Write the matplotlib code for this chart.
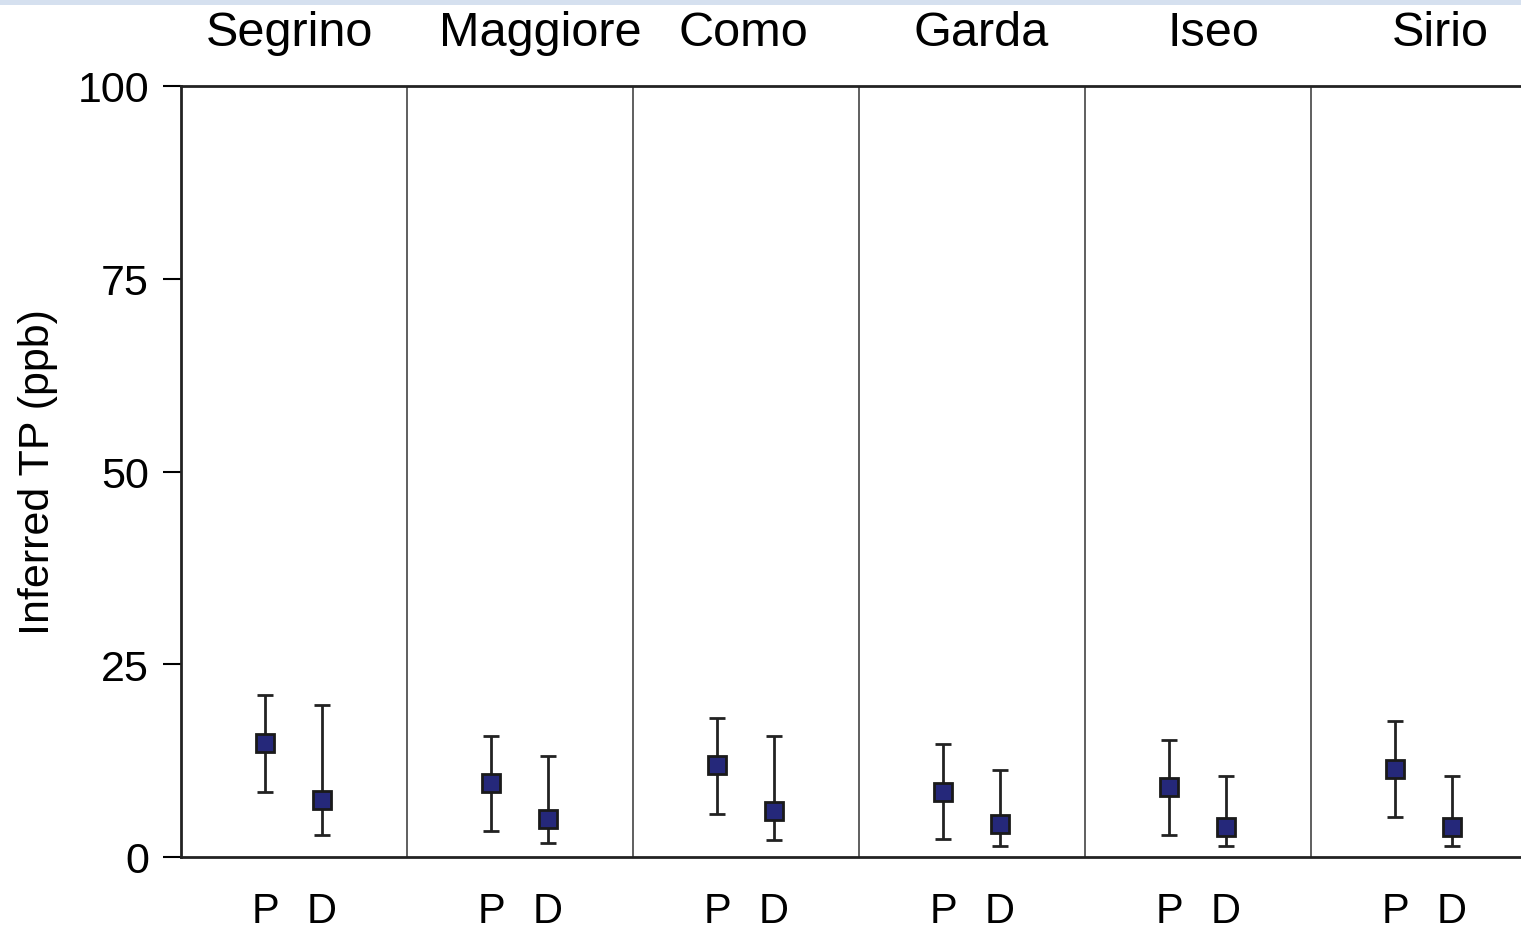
import matplotlib.pyplot as plt
from matplotlib.patches import Rectangle

plt.rcParams['font.family'] = ['Liberation Sans', 'DejaVu Sans']

# lakes and inferred TP (ppb): P and D estimates with error range
lakes = ['Segrino', 'Maggiore', 'Como', 'Garda', 'Iseo', 'Sirio']
p_val = [14.8, 9.6, 11.9, 8.4, 9.1, 11.4]
p_hi = [21.0, 15.7, 18.0, 14.7, 15.2, 17.6]
p_lo = [8.4, 3.4, 5.6, 2.3, 2.85, 5.2]
d_val = [7.4, 4.9, 6.0, 4.3, 3.9, 3.9]
d_hi = [19.7, 13.1, 15.7, 11.3, 10.5, 10.5]
d_lo = [2.85, 1.8, 2.2, 1.4, 1.4, 1.4]
label_x = [0.48, 1.59, 2.49, 3.54, 4.57, 5.57]

fig = plt.figure(figsize=(15.21, 9.29), dpi=100)
ax = fig.add_axes([181 / 1521, 1 - 858 / 929, 1340 / 1521, 771 / 929])

# light blue strip at the very top
fig.patches.append(Rectangle((0, 1 - 6 / 929), 1, 6 / 929, transform=fig.transFigure,
                             facecolor='#d5e0ef', edgecolor='none'))

xp = [i + 0.372 for i in range(len(lakes))]
xd = [i + 0.624 for i in range(len(lakes))]

for xs, v, hi, lo in [(xp, p_val, p_hi, p_lo), (xd, d_val, d_hi, d_lo)]:
    yerr = [[a - b for a, b in zip(v, lo)], [b - a for a, b in zip(v, hi)]]
    ax.errorbar(xs, v, yerr=yerr, fmt='s', color='#222222', ecolor='#222222',
                elinewidth=2, capsize=6, capthick=2, markersize=13,
                markerfacecolor='#25287a', markeredgecolor='#1a1a1a',
                markeredgewidth=2, zorder=3)

# separators between lakes
for i in range(1, len(lakes)):
    ax.axvline(i, color='#444444', lw=1.2, zorder=1)

ax.set_xlim(0, 1340 / 226)
ax.set_ylim(0, 100)
ax.set_yticks([0, 25, 50, 75, 100])
ax.tick_params(axis='y', direction='out', length=13, width=1.5, labelsize=31, pad=10)
ax.set_xticks([])
ax.spines['right'].set_visible(False)
for s in ['left', 'top', 'bottom']:
    ax.spines[s].set_linewidth(2)
    ax.spines[s].set_color('#222222')

ax.set_ylabel('Inferred TP (ppb)', fontsize=31, labelpad=14)

for i, name in enumerate(lakes):
    ax.text(label_x[i], 1.069, name, transform=ax.get_xaxis_transform(),
            ha='center', va='center', fontsize=35)
    ax.text(xp[i], -0.07, 'P', transform=ax.get_xaxis_transform(),
            ha='center', va='center', fontsize=30)
    ax.text(xd[i], -0.07, 'D', transform=ax.get_xaxis_transform(),
            ha='center', va='center', fontsize=30)

fig.savefig('out.png', dpi=100)
